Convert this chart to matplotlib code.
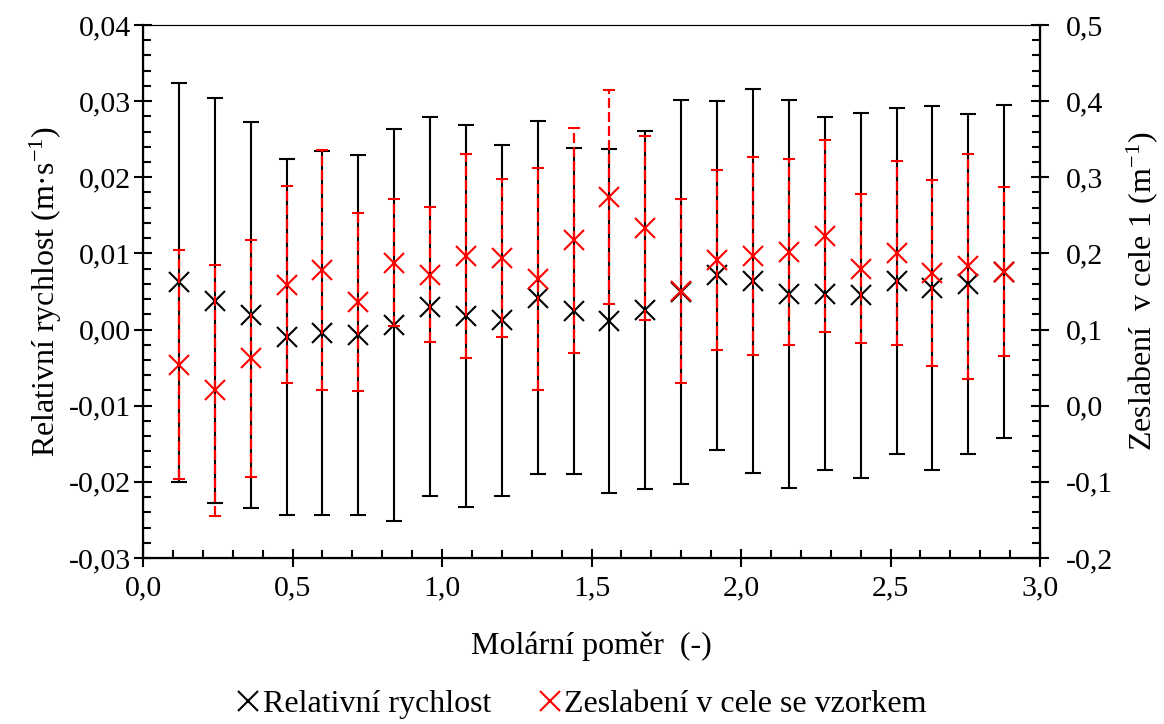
import matplotlib
matplotlib.use("Agg")
import matplotlib.pyplot as plt
from matplotlib.ticker import MultipleLocator, FuncFormatter
from matplotlib.lines import Line2D

plt.rcParams['font.family'] = ['Liberation Serif', 'DejaVu Serif']
plt.rcParams['mathtext.fontset'] = 'custom'
plt.rcParams['mathtext.rm'] = 'Liberation Serif'
plt.rcParams['mathtext.it'] = 'Liberation Serif:italic'
plt.rcParams['font.size'] = 21

# molar ratio
molar_ratio = [0.12, 0.24, 0.36, 0.48, 0.60, 0.72, 0.84, 0.96, 1.08, 1.20, 1.32, 1.44,
               1.56, 1.68, 1.80, 1.92, 2.04, 2.16, 2.28, 2.40, 2.52, 2.64, 2.76, 2.88]

# relative speed (left axis)
rel_speed = [0.0062, 0.0038, 0.0019, -0.0010, -0.0004, -0.0007, 0.0006, 0.0030,
             0.0018, 0.0012, 0.0042, 0.0024, 0.0011, 0.0026, 0.0049, 0.0071,
             0.0064, 0.0047, 0.0047, 0.0045, 0.0064, 0.0054, 0.0060, 0.0076]
rel_speed_err = [0.0262, 0.0266, 0.0253, 0.0234, 0.0239, 0.0236, 0.0257, 0.0249,
                 0.0251, 0.0230, 0.0232, 0.0214, 0.0226, 0.0235, 0.0252, 0.0229,
                 0.0252, 0.0255, 0.0232, 0.0240, 0.0227, 0.0239, 0.0223, 0.0219]

# attenuation in sample cell (right axis)
atten = [0.054, 0.020, 0.062, 0.159, 0.178, 0.136, 0.188, 0.172,
         0.196, 0.194, 0.166, 0.217, 0.274, 0.233, 0.151, 0.191,
         0.197, 0.202, 0.223, 0.180, 0.201, 0.174, 0.183, 0.176]
atten_err = [0.150, 0.165, 0.156, 0.129, 0.158, 0.117, 0.083, 0.089,
             0.134, 0.104, 0.146, 0.148, 0.141, 0.121, 0.121, 0.118,
             0.130, 0.122, 0.126, 0.098, 0.121, 0.122, 0.148, 0.111]


def comma_fmt(decimals):
    return FuncFormatter(lambda v, pos: f"{v:.{decimals}f}".replace('.', ','))


fig = plt.figure(figsize=(11.64, 7.24), dpi=100)
ax = fig.add_axes([0.1229, 0.2293, 0.7706, 0.7362])
ax2 = ax.twinx()

ax.errorbar(molar_ratio, rel_speed, yerr=rel_speed_err, fmt='x', color='black',
            ecolor='black', elinewidth=1.5, capsize=6, capthick=1.5,
            markersize=14, markeredgewidth=1.5, zorder=3)

eb = ax2.errorbar(molar_ratio, atten, yerr=atten_err, fmt='x', color='red',
                  ecolor='red', elinewidth=1.6, capsize=4, capthick=1.3,
                  markersize=14, markeredgewidth=1.5, zorder=3)
eb[2][0].set_linestyle((0, (4.5, 1.8)))

ax.set_xlim(0, 3.0)
ax.set_ylim(-0.03, 0.04)
ax2.set_ylim(-0.2, 0.5)

ax.xaxis.set_major_locator(MultipleLocator(0.5))
ax.xaxis.set_minor_locator(MultipleLocator(0.1))
ax.yaxis.set_major_locator(MultipleLocator(0.01))
ax.yaxis.set_minor_locator(MultipleLocator(0.002))
ax2.yaxis.set_major_locator(MultipleLocator(0.1))
ax2.yaxis.set_minor_locator(MultipleLocator(0.02))

ax.xaxis.set_major_formatter(comma_fmt(1))
ax.yaxis.set_major_formatter(comma_fmt(2))
ax2.yaxis.set_major_formatter(comma_fmt(1))

ax.tick_params(axis='both', which='major', direction='inout', length=13, width=1.5, labelsize=21.5)
ax.tick_params(axis='both', which='minor', direction='in', length=6, width=1.5)
ax.tick_params(axis='x', which='major', pad=6)
ax.tick_params(axis='y', which='major', pad=2)
ax2.tick_params(axis='y', which='major', direction='inout', length=13, width=1.5,
                labelsize=21.5, pad=12)
ax2.tick_params(axis='y', which='minor', direction='in', length=6, width=1.5)

for side in ['left', 'bottom']:
    ax.spines[side].set_linewidth(1.6)
ax2.spines['right'].set_linewidth(1.6)
ax.spines['top'].set_linewidth(0.8)
ax2.spines['top'].set_linewidth(0.8)

ax.set_xlabel('Molární poměr  (-)', fontsize=23, labelpad=22)
ax.set_ylabel('Relativní rychlost (m·s$^{-1}$)', fontsize=23, labelpad=4)
ax2.set_ylabel('Zeslabení  v cele 1 (m$^{-1}$)', fontsize=23, rotation=90, labelpad=8)

handles = [
    Line2D([], [], marker='x', color='black', linestyle='none', markersize=15, markeredgewidth=1.5),
    Line2D([], [], marker='x', color='red', linestyle='none', markersize=15, markeredgewidth=1.5),
]
fig.legend(handles, ['Relativní rychlost', 'Zeslabení v cele se vzorkem'],
           loc='center', bbox_to_anchor=(0.50, 0.027), ncol=2, frameon=False,
           fontsize=23, handlelength=0.7, handletextpad=0.1, columnspacing=1.5)

fig.savefig('out.png', dpi=100)
